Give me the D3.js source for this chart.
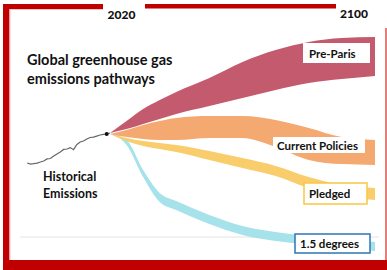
<!DOCTYPE html>
<html><head><meta charset="utf-8">
<script src="https://cdn.jsdelivr.net/npm/d3@7"></script>
<style>html,body{margin:0;padding:0;background:#fff;}svg{display:block;}</style>
</head><body>
<svg id="chart" width="387" height="270"></svg>
<script>
// ---- data (GtCO2e) ----
const historyYears  = [1995,1996,1997,1998,1999,2000,2001,2002,2003,2004,2005,2006,2007,2008,2009,2010,2011,2012,2013,2014,2015,2016,2017,2018,2019,2020];
const historyValues = [35.9,35.4,35.6,35.9,36.4,36.9,37.9,38.1,39.3,40.3,41.3,42.5,42.7,43.4,42.4,44.9,46.1,46.6,47.6,48.3,48.5,49.0,49.5,49.8,50.0,50.5];
const pathwayYears  = [2020,2025,2030,2035,2040,2050,2060,2070,2080,2090,2100];
const preParisHigh  = [50.5,56.3,62.1,66.5,70.4,77.2,85.0,90.8,94.7,96.6,97.1];
const preParisLow   = [50.5,52.4,54.9,57.3,59.7,63.6,67.5,71.4,74.8,76.7,78.2];
const currentHigh   = [50.0,51.9,54.4,56.3,57.8,58.7,58.7,56.8,52.9,48.5,47.1];
const currentLow    = [50.0,48.5,47.6,47.1,47.1,48.1,48.1,43.7,37.4,35.4,35.0];
const pledgedHigh   = [50.0,48.1,46.6,45.6,44.7,41.7,38.3,34.5,29.1,25.2,23.8];
const pledgedLow    = [50.0,46.6,44.2,42.7,41.3,37.4,33.5,29.6,23.8,19.9,18.0];
const degreesHigh   = [50.0,47.1,32.5,21.4,17.5,10.7,5.3,2.4,0.5,-1.0,-2.4];
const degreesLow    = [50.0,44.7,29.1,17.0,13.1,6.3,1.0,-1.9,-3.6,-5.3,-6.8];
const yearLabels    = ["2020","2100"];
const titleLines    = ["Global greenhouse gas","emissions pathways"];
const historyLabel  = ["Historical","Emissions"];
const pathwayNames  = ["Pre-Paris","Current Policies","Pledged","1.5 degrees"];

const svg = d3.select("#chart");
const font = "Lato, 'Open Sans', sans-serif";
const x = d3.scaleLinear().domain([2020,2100]).range([110,375]);
const y = d3.scaleLinear().domain([0,50]).range([237,134]);

// frame
const red = "#c00000";
svg.append("rect").attr("x",3).attr("y",4).attr("width",100).attr("height",5).attr("fill",red);
svg.append("rect").attr("x",145).attr("y",4).attr("width",191).attr("height",4.5).attr("fill",red);
svg.append("rect").attr("x",3).attr("y",4).attr("width",6.5).attr("height",266).attr("fill",red);
svg.append("rect").attr("x",3).attr("y",260).attr("width",384).attr("height",10).attr("fill",red);
svg.append("line").attr("x1",386).attr("x2",386).attr("y1",28).attr("y2",260).attr("stroke","#d9534f").attr("stroke-width",1.5);
svg.append("line").attr("x1",10).attr("x2",103).attr("y1",9.5).attr("y2",9.5).attr("stroke","#f3c6c6").attr("stroke-width",1);
svg.append("line").attr("x1",10).attr("x2",10).attr("y1",9.5).attr("y2",260).attr("stroke","#f3c6c6").attr("stroke-width",1);

// zero line
svg.append("line").attr("x1",20).attr("x2",379).attr("y1",y(0)).attr("y2",y(0)).attr("stroke","#e4e4e4").attr("stroke-width",1);

// bands
function band(high, low, color){
  const data = pathwayYears.map((yr,i)=>({yr, hi:high[i], lo:low[i]}));
  const area = d3.area().x(d=>x(d.yr)).y0(d=>y(d.lo)).y1(d=>y(d.hi)).curve(d3.curveMonotoneX);
  svg.append("path").datum(data).attr("d",area).attr("fill",color);
}
band(degreesHigh, degreesLow, "#a6e2ea");
band(pledgedHigh, pledgedLow, "#f9cd6c");
band(currentHigh, currentLow, "#f4a970");
band(preParisHigh, preParisLow, "#c35a6d");

// historical
const hist = historyYears.map((yr,i)=>({yr, v:historyValues[i]}));
svg.append("path").datum(hist)
  .attr("d", d3.line().x(d=>x(d.yr)).y(d=>y(d.v)))
  .attr("fill","none").attr("stroke","#666").attr("stroke-width",1.2);
svg.append("circle").attr("cx",x(2019)).attr("cy",y(50)).attr("r",2).attr("fill","#111");

// year labels
svg.append("text").attr("x",121.5).attr("y",18.5).attr("text-anchor","middle")
  .attr("font-family",font).attr("font-weight",900).attr("font-size",12).attr("fill","#111").text(yearLabels[0]);
svg.append("text").attr("x",354).attr("y",17.5).attr("text-anchor","middle")
  .attr("font-family",font).attr("font-weight",900).attr("font-size",12).attr("fill","#111").text(yearLabels[1]);

// title
titleLines.forEach((t,i)=>{
  svg.append("text").attr("x",27).attr("y",65+i*18.5)
    .attr("font-family",font).attr("font-weight",700).attr("font-size",14.5).attr("fill","#111").text(t);
});
historyLabel.forEach((t,i)=>{
  svg.append("text").attr("x",43).attr("y",181+i*16.5)
    .attr("font-family",font).attr("font-weight",700).attr("font-size",12.5).attr("fill","#111").text(t);
});

// pathway labels
const boxes = [
  {x:303,y:43,w:67,h:20,stroke:"none",tx:309,ty:57.5},
  {x:273,y:137,w:92,h:16,stroke:"none",tx:277,ty:149.5},
  {x:304,y:183,w:63,h:21,stroke:"#f7c843",tx:309,ty:197.5},
  {x:295,y:234,w:75,h:19,stroke:"#2e75b6",tx:300,ty:248}
];
boxes.forEach((b,i)=>{
  svg.append("rect").attr("x",b.x).attr("y",b.y).attr("width",b.w).attr("height",b.h)
    .attr("fill","#fff").attr("stroke",b.stroke).attr("stroke-width",1.5);
  svg.append("text").attr("x",b.tx).attr("y",b.ty)
    .attr("font-family",font).attr("font-weight",700).attr("font-size",11.5).attr("fill","#111").text(pathwayNames[i]);
});
</script>
</body></html>
